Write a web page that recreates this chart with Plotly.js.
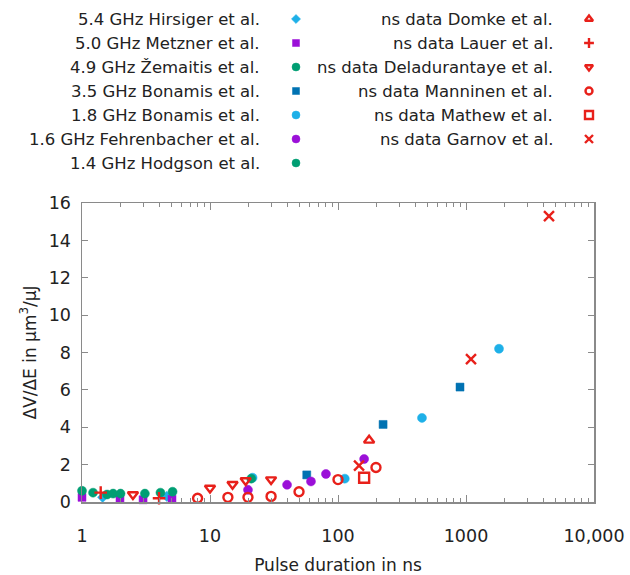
<!DOCTYPE html>
<html><head><meta charset="utf-8">
<script src="https://cdn.plot.ly/plotly-3.0.1.min.js"></script>
<style>body{margin:0;background:#fff}</style></head>
<body><div id="chart" style="width:630px;height:575px"></div>
<script>
// ---- data (pulse duration in ns, dV/dE in um^3/uJ) ----
const hirsigerX = [1.45, 4.6];
const hirsigerY = [0.25, 0.3];
const metznerX = [1.0, 1.98, 3.0, 5.05];
const metznerY = [0.25, 0.16, 0.12, 0.15];
const zemaitisX = [1.0, 1.22, 1.57, 1.75, 2.0];
const zemaitisY = [0.6, 0.5, 0.4, 0.45, 0.45];
const bonamis35X = [57, 225, 898];
const bonamis35Y = [1.45, 4.15, 6.15];
const bonamis18X = [21.5, 113, 453, 1811];
const bonamis18Y = [1.3, 1.25, 4.5, 8.2];
const fehrenbacherX = [19.8, 40, 61.5, 80.5, 160];
const fehrenbacherY = [0.65, 0.92, 1.1, 1.5, 2.3];
const hodgsonX = [3.1, 4.1, 5.1, 21];
const hodgsonY = [0.45, 0.5, 0.55, 1.25];
const domkeX = [175];
const domkeY = [3.3];
const lauerX = [1.4, 4.0];
const lauerY = [0.5, 0.2];
const deladurantayeX = [2.5, 10, 15, 19, 30];
const deladurantayeY = [0.4, 0.75, 0.95, 1.15, 1.2];
const manninenX = [8, 13.8, 19.8, 30, 49.6, 100, 198];
const manninenY = [0.2, 0.25, 0.25, 0.3, 0.55, 1.2, 1.85];
const mathewX = [160];
const mathewY = [1.3];
const garnovX = [146, 1094, 4450];
const garnovY = [1.95, 7.65, 15.3];

const xTickVals = [1, 10, 100, 1000, 10000];
const xTickText = ['1', '10', '100', '1000', '10,000'];
const yTickVals = [0, 2, 4, 6, 8, 10, 12, 14, 16];

const leftNames = ['5.4 GHz Hirsiger et al.', '5.0 GHz Metzner et al.', '4.9 GHz Žemaitis et al.',
  '3.5 GHz Bonamis et al.', '1.8 GHz Bonamis et al.', '1.6 GHz Fehrenbacher et al.', '1.4 GHz Hodgson et al.'];
const rightNames = ['ns data Domke et al.', 'ns data Lauer et al.', 'ns data Deladurantaye et al.',
  'ns data Manninen et al.', 'ns data Mathew et al.', 'ns data Garnov et al.'];

// ---- styles ----
const CYAN = '#1eb0e8', PURPLE = '#9b10d8', GREEN = '#009e73', BLUE = '#0072b2', RED = '#e8201a';
const leftData = [[hirsigerX, hirsigerY], [metznerX, metznerY], [zemaitisX, zemaitisY], [bonamis35X, bonamis35Y],
  [bonamis18X, bonamis18Y], [fehrenbacherX, fehrenbacherY], [hodgsonX, hodgsonY]];
const leftStyles = [
  {symbol: 'diamond', color: CYAN, size: 8},
  {symbol: 'square', color: PURPLE, size: 8},
  {symbol: 'circle', color: GREEN, size: 9},
  {symbol: 'square', color: BLUE, size: 8},
  {symbol: 'circle', color: CYAN, size: 9},
  {symbol: 'circle', color: PURPLE, size: 9},
  {symbol: 'circle', color: GREEN, size: 9}];
const rightData = [[domkeX, domkeY], [lauerX, lauerY], [deladurantayeX, deladurantayeY],
  [manninenX, manninenY], [mathewX, mathewY], [garnovX, garnovY]];
const rightStyles = [
  {symbol: 'triangle-up-open', color: RED, size: 9},
  {symbol: 'cross-thin-open', color: RED, size: 9},
  {symbol: 'triangle-down-open', color: RED, size: 9},
  {symbol: 'circle-open', color: RED, size: 9},
  {symbol: 'square-open', color: RED, size: 10},
  {symbol: 'x-thin-open', color: RED, size: 10}];

function mk(st) {
  const open = st.symbol.indexOf('open') >= 0;
  return {symbol: st.symbol, size: st.size, color: st.color,
    line: {color: st.color, width: open ? 2.4 : 0.5}};
}

const traces = [];
leftData.forEach((d, i) => traces.push({x: d[0], y: d[1], type: 'scatter', mode: 'markers',
  name: leftNames[i], marker: mk(leftStyles[i]), cliponaxis: false, showlegend: false}));
rightData.forEach((d, i) => traces.push({x: d[0], y: d[1], type: 'scatter', mode: 'markers',
  name: rightNames[i], marker: mk(rightStyles[i]), cliponaxis: false, showlegend: false}));

// ---- custom legend (markers on a hidden helper axis, text as annotations) ----
const rowY0 = 19, rowStep = 24;
const annotations = [];
const LF = {family: 'DejaVu Sans', size: 16.5, color: '#222'};
leftNames.forEach((n, i) => {
  traces.push({x: [296], y: [rowY0 + i * rowStep], xaxis: 'x2', yaxis: 'y2', type: 'scatter', mode: 'markers',
    marker: mk(Object.assign({}, leftStyles[i], {size: leftStyles[i].size - 1})), showlegend: false, hoverinfo: 'skip'});
  annotations.push({xref: 'x2', yref: 'y2', x: 262, y: rowY0 + i * rowStep, text: n, showarrow: false,
    xanchor: 'right', yanchor: 'middle', font: LF});
});
rightNames.forEach((n, i) => {
  traces.push({x: [589], y: [rowY0 + i * rowStep], xaxis: 'x2', yaxis: 'y2', type: 'scatter', mode: 'markers',
    marker: mk(Object.assign({}, rightStyles[i], {size: rightStyles[i].size - 2})), showlegend: false, hoverinfo: 'skip'});
  annotations.push({xref: 'x2', yref: 'y2', x: 555, y: rowY0 + i * rowStep, text: n, showarrow: false,
    xanchor: 'right', yanchor: 'middle', font: LF});
});

const minorVals = [];
for (let d = 1; d < 10000; d *= 10) for (let k = 2; k <= 9; k++) minorVals.push(k * d);

const AX = '#8a8a8a';
const layout = {
  width: 630, height: 575,
  margin: {l: 0, r: 0, t: 0, b: 73},
  paper_bgcolor: '#fff', plot_bgcolor: '#fff',
  font: {family: 'DejaVu Sans', color: '#222'},
  showlegend: false,
  xaxis: {type: 'log', domain: [82 / 630, 594 / 630], range: [0, 4], tickmode: 'array',
    tickvals: xTickVals, ticktext: xTickText, ticks: 'inside', ticklen: 7, tickcolor: AX,
    showline: true, linecolor: AX, linewidth: 1.5, mirror: 'ticks', showgrid: false, zeroline: false,
    tickfont: {size: 17.5, color: '#222'}, ticklabelstandoff: 17,
    minor: {tickmode: 'array', tickvals: minorVals, ticks: 'inside', ticklen: 4, tickcolor: AX, showgrid: false},
    title: {text: 'Pulse duration in ns', font: {size: 17, color: '#222'}, standoff: 16}},
  yaxis: {domain: [0, (502 - 203) / 502], range: [0, 16], tickmode: 'array', tickvals: yTickVals,
    ticks: 'inside', ticklen: 6, tickcolor: AX, showline: true, linecolor: AX, linewidth: 1.5, mirror: 'ticks',
    showgrid: false, zeroline: false, tickfont: {size: 17.5, color: '#222'}, ticklabelstandoff: 6,
    title: {text: 'ΔV/ΔE in µm<sup>3</sup>/µJ', font: {size: 17, color: '#222'}, standoff: 8}},
  xaxis2: {domain: [0, 1], range: [0, 630], visible: false, fixedrange: true, anchor: 'y2'},
  yaxis2: {domain: [(502 - 190) / 502, 1], range: [190, 0], visible: false, fixedrange: true, anchor: 'x2'},
  annotations: annotations
};

Plotly.newPlot('chart', traces, layout, {displayModeBar: false, staticPlot: true});
</script></body></html>
